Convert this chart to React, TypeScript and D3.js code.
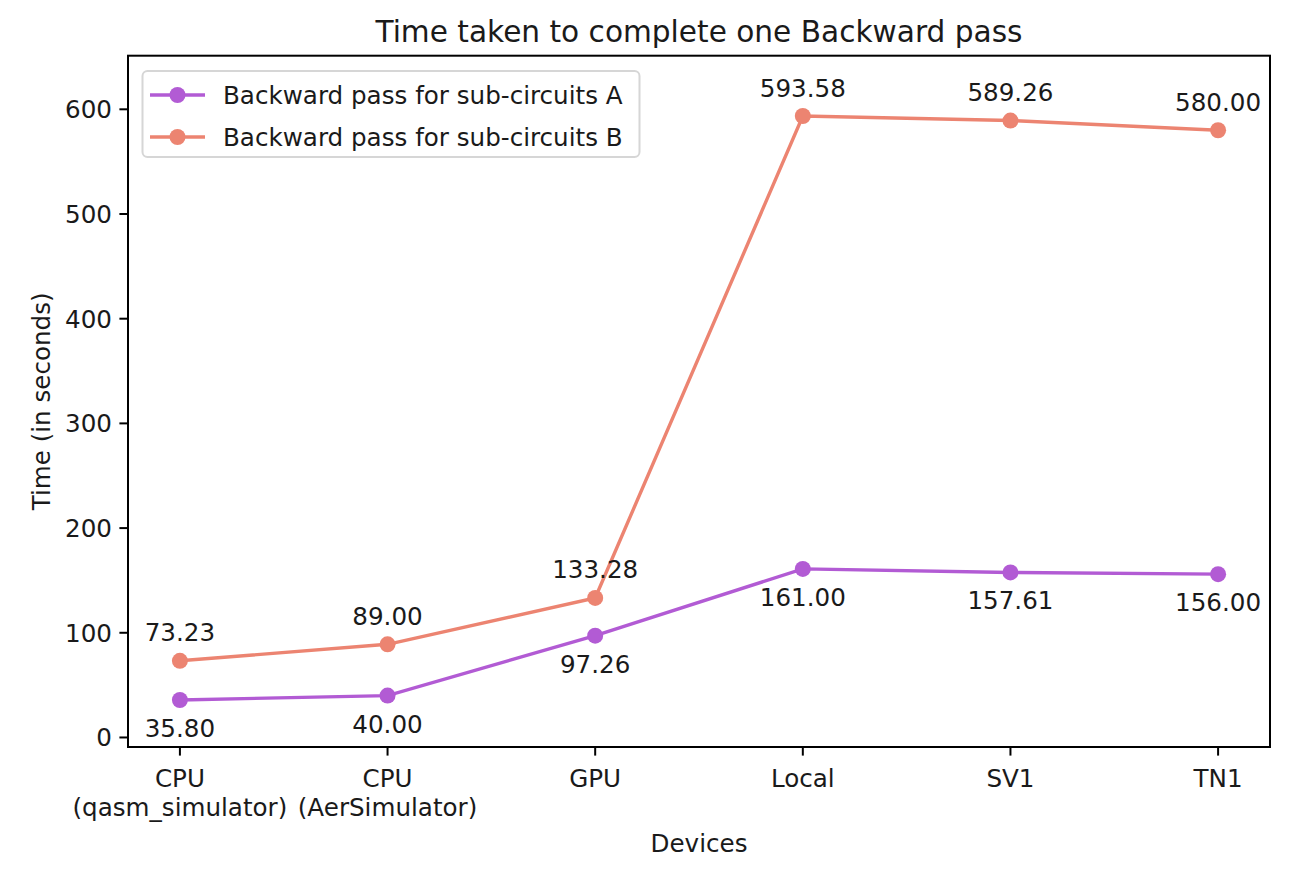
import React from "react";
import * as d3 from "d3";

const categories: string[][] = [
  ["CPU", "(qasm_simulator)"],
  ["CPU", "(AerSimulator)"],
  ["GPU"],
  ["Local"],
  ["SV1"],
  ["TN1"],
];
const seriesA = [35.8, 40.0, 97.26, 161.0, 157.61, 156.0];
const seriesB = [73.23, 89.0, 133.28, 593.58, 589.26, 580.0];
const yTicks = [0, 100, 200, 300, 400, 500, 600];
const labelA = "Backward pass for sub-circuits A";
const labelB = "Backward pass for sub-circuits B";
const title = "Time taken to complete one Backward pass";
const xTitle = "Devices";
const yTitle = "Time (in seconds)";

const W = 1310;
const H = 870;
const L = 128;
const R = 1270;
const T = 55.7;
const B = 747;
const colorA = "#b25bd4";
const colorB = "#ec8471";
const font = "DejaVu Sans";
const fs = 24.6;
const textColor = "#1a1a1a";

export default function App() {
  const x = d3.scaleLinear().domain([-0.25, 5.25]).range([L, R]);
  const y = d3.scaleLinear().domain([-9.1, 651.2]).range([B, T]);
  const line = d3
    .line<number>()
    .x((_, i) => x(i))
    .y((d) => y(d));

  const series = [
    { values: seriesA, color: colorA, dy: 37, label: labelA },
    { values: seriesB, color: colorB, dy: -19.5, label: labelB },
  ];

  return (
    <svg
      width={W}
      height={H}
      style={{ position: "absolute", left: 0, top: 0 }}
      fontFamily={font}
    >
      <rect x={0} y={0} width={W} height={H} fill="white" />
      <text x={(L + R) / 2} y={42} textAnchor="middle" fontSize={29.6} fill={textColor}>
        {title}
      </text>
      {yTicks.map((t) => (
        <g key={t}>
          <line x1={L - 8.6} x2={L} y1={y(t)} y2={y(t)} stroke="#000" strokeWidth={2} />
          <text x={L - 16} y={y(t) + 9} textAnchor="end" fontSize={fs} fill={textColor}>
            {t}
          </text>
        </g>
      ))}
      {categories.map((c, i) => (
        <g key={i}>
          <line x1={x(i)} x2={x(i)} y1={B} y2={B + 8.6} stroke="#000" strokeWidth={2} />
          {c.map((s, j) => (
            <text
              key={j}
              x={x(i)}
              y={786.5 + j * 29.5}
              textAnchor="middle"
              fontSize={fs}
              fill={textColor}
            >
              {s}
            </text>
          ))}
        </g>
      ))}
      {series.map((s, k) => (
        <g key={k}>
          <path d={line(s.values) || ""} fill="none" stroke={s.color} strokeWidth={3.4} />
          {s.values.map((v, i) => (
            <circle key={i} cx={x(i)} cy={y(v)} r={8} fill={s.color} />
          ))}
          {s.values.map((v, i) => (
            <text
              key={"t" + i}
              x={x(i)}
              y={y(v) + s.dy}
              textAnchor="middle"
              fontSize={fs}
              fill={textColor}
            >
              {v.toFixed(2)}
            </text>
          ))}
        </g>
      ))}
      <rect x={L} y={T} width={R - L} height={B - T} fill="none" stroke="#000" strokeWidth={2} />
      <text x={(L + R) / 2} y={852} textAnchor="middle" fontSize={fs} fill={textColor}>
        {xTitle}
      </text>
      <text
        transform={`translate(50,${(T + B) / 2}) rotate(-90)`}
        textAnchor="middle"
        fontSize={fs}
        fill={textColor}
      >
        {yTitle}
      </text>
      <rect
        x={142.5}
        y={71}
        width={497}
        height={86}
        rx={5}
        fill="white"
        fillOpacity={0.8}
        stroke="#d6d6d6"
        strokeWidth={2}
      />
      {series.map((s, k) => {
        const ry = 95 + k * 42;
        return (
          <g key={"l" + k}>
            <line x1={150} x2={205} y1={ry} y2={ry} stroke={s.color} strokeWidth={3.4} />
            <circle cx={177.5} cy={ry} r={8} fill={s.color} />
            <text x={223} y={ry + 9} fontSize={fs} fill={textColor}>
              {s.label}
            </text>
          </g>
        );
      })}
    </svg>
  );
}
